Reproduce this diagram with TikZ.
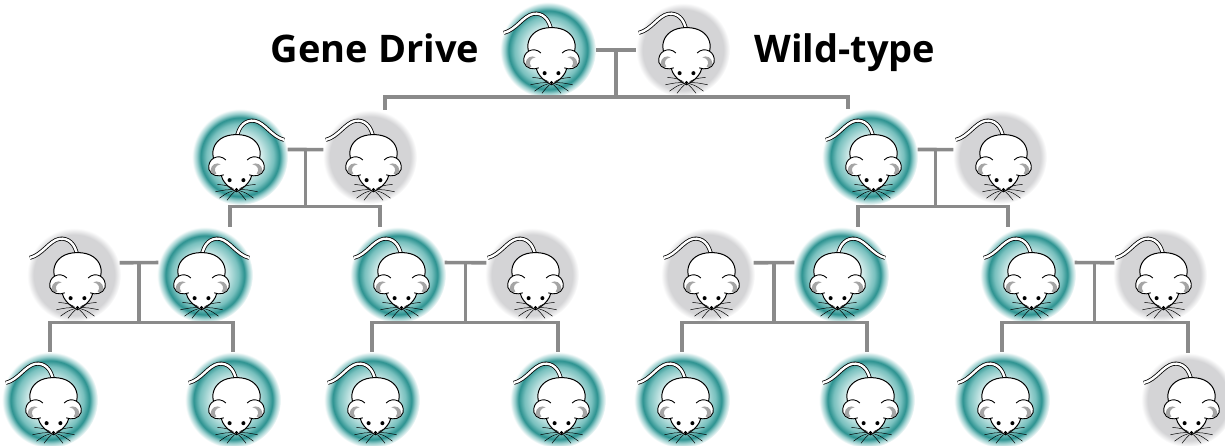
\documentclass[tikz,border=0pt]{standalone}
\usepackage{fontspec}
\setmainfont{Open Sans}
\usepackage{tikz}

\definecolor{gddark}{RGB}{44,146,144}
\definecolor{gdmid}{RGB}{120,192,190}
\definecolor{gdpale}{RGB}{214,237,236}
\definecolor{gdfade}{RGB}{150,205,204}
\definecolor{wtgray}{RGB}{212,212,214}
\definecolor{linkgray}{RGB}{138,138,138}
\definecolor{eargray}{RGB}{165,165,165}

\pgfdeclareradialshading{driveglow}{\pgfpoint{0bp}{0bp}}{color(0bp)=(gdpale); color(11bp)=(gdpale); color(17.5bp)=(gdmid); color(20.5bp)=(gddark); color(22.5bp)=(gdfade); color(25bp)=(white); color(50bp)=(white)}
\pgfdeclareradialshading{wildglow}{\pgfpoint{0bp}{0bp}}{color(0bp)=(wtgray); color(21.5bp)=(wtgray); color(25bp)=(white); color(50bp)=(white)}

\tikzset{
  mouse/.pic={
    \begin{scope}[shift={(3.5,3)},scale=1.06]
    \draw[line width=0.8pt,double=white,double distance=2.4pt]
      (0,-20) .. controls (-2,-33) and (-9,-38) .. (-17,-37)
      .. controls (-27,-35) and (-33,-22) .. (-45,-19);
    \draw[fill=white,line width=1pt] (-14,8) .. controls (-28,0) and (-25,-24) .. (0,-24)
      .. controls (25,-24) and (28,0) .. (14,8)
      .. controls (17,18) and (8,26) .. (0,30)
      .. controls (-8,26) and (-17,18) .. cycle;
    \foreach \s in {1,-1}{
      \begin{scope}[xscale=\s]
      \fill[white] (-10,0) .. controls (-17,-7) and (-28,-1) .. (-26,9)
        .. controls (-24,15) and (-17,16) .. (-12,14) -- cycle;
      \fill[eargray] (-24.5,10) .. controls (-24,4) and (-19,2) .. (-15,4)
        .. controls (-20,5) and (-22,9) .. (-19,13)
        .. controls (-22,14) and (-24,12) .. cycle;
      \draw[line width=0.9pt] (-10,0) .. controls (-17,-7) and (-28,-1) .. (-26,9)
        .. controls (-24,15) and (-17,16) .. (-12,14);
      \draw[line width=0.5pt] (-3,27) .. controls (-9,24) .. (-18,23)
        (-3,28) .. controls (-10,28) .. (-20,30)
        (-3,29) .. controls (-9,31) .. (-16,36)
        (-2,30) .. controls (-5,33) .. (-9,38);
      \end{scope}}
    \fill (-6.5,19) circle (1.9pt) (6.5,19) circle (1.9pt) (0,28) circle (1.7pt);
    \end{scope}}
}

\begin{document}
\begin{tikzpicture}[x=1pt,y=-1pt,
  link/.style={draw=linkgray,line width=3.6pt},
  drive/.style={circle,inner sep=0pt,minimum size=96pt,shade,shading=driveglow},
  wild/.style={circle,inner sep=0pt,minimum size=94pt,shade,shading=wildglow},
  headline/.style={font=\fontsize{38}{46}\selectfont\bfseries,anchor=base}]
\useasboundingbox (0,0) rectangle (1225,445);

\node[headline] (gdtext) at (375,62) {Gene Drive};
\node[headline] (wttext) at (845,62) {Wild-type};

\node[drive] (gd0) at (548,50) {};
\node[wild] (wt0) at (683,50) {};

\node[drive] (gd1a) at (240,157) {};
\node[wild] (wt1a) at (370,157) {};
\node[drive] (gd1b) at (870,157) {};
\node[wild] (wt1b) at (1000,157) {};

\node[wild] (wt2a) at (74,275) {};
\node[drive] (gd2a) at (205,275) {};
\node[drive] (gd2b) at (398,275) {};
\node[wild] (wt2b) at (532,275) {};
\node[wild] (wt2c) at (708,275) {};
\node[drive] (gd2c) at (841,275) {};
\node[drive] (gd2d) at (1028,275) {};
\node[wild] (wt2d) at (1160,275) {};

\node[drive] (gd3a) at (50,400) {};
\node[drive] (gd3b) at (233,400) {};
\node[drive] (gd3c) at (372,400) {};
\node[drive] (gd3d) at (558,400) {};
\node[drive] (gd3e) at (682,400) {};
\node[drive] (gd3f) at (867,400) {};
\node[drive] (gd3g) at (1002,400) {};
\node[wild] (wt3h) at (1188,400) {};

% crosses
\draw[link] (gd0.east) -- coordinate (t0) (wt0.west);
\draw[link] (t0) -- ++(0,47) coordinate (j0);
\draw[link] ([xshift=15pt]wt1a.north) |- (j0) -| ([xshift=-22pt]gd1b.north);

\draw[link] (gd1a.9) -- coordinate (t1a) (wt1a.171);
\draw[link] (t1a) -- ++(0,57) coordinate (j1a);
\draw[link] ([xshift=25pt]gd2a.north) |- (j1a) -| ([xshift=-18pt]gd2b.north);
\draw[link] (gd1b.9) -- coordinate (t1b) (wt1b.171);
\draw[link] (t1b) -- ++(0,57) coordinate (j1b);
\draw[link] ([xshift=17pt]gd2c.north) |- (j1b) -| ([xshift=-20pt]gd2d.north);

\draw[link] (wt2a.15) -- coordinate (t2a) (gd2a.165);
\draw[link] (t2a) -- ++(0,60) coordinate (j2a);
\draw[link] (gd3a.north) |- (j2a) -| (gd3b.north);
\draw[link] (gd2b.15) -- coordinate (t2b) (wt2b.165);
\draw[link] (t2b) -- ++(0,60) coordinate (j2b);
\draw[link] (gd3c.north) |- (j2b) -| (gd3d.north);
\draw[link] (wt2c.15) -- coordinate (t2c) (gd2c.165);
\draw[link] (t2c) -- ++(0,60) coordinate (j2c);
\draw[link] (gd3e.north) |- (j2c) -| (gd3f.north);
\draw[link] (gd2d.15) -- coordinate (t2d) (wt2d.165);
\draw[link] (t2d) -- ++(0,60) coordinate (j2d);
\draw[link] (gd3g.north) |- (j2d) -| (wt3h.north);

% mice
\foreach \m in {gd0,wt0,wt1a,gd1b,wt1b,wt2a,gd2b,wt2b,wt2c,gd2d,wt2d,
  gd3a,gd3b,gd3c,gd3d,gd3e,gd3f,gd3g,wt3h}
  \pic at (\m) {mouse};
\foreach \m in {gd1a,gd2a,gd2c}
  \pic[xscale=-1] at (\m) {mouse};
\end{tikzpicture}
\end{document}
